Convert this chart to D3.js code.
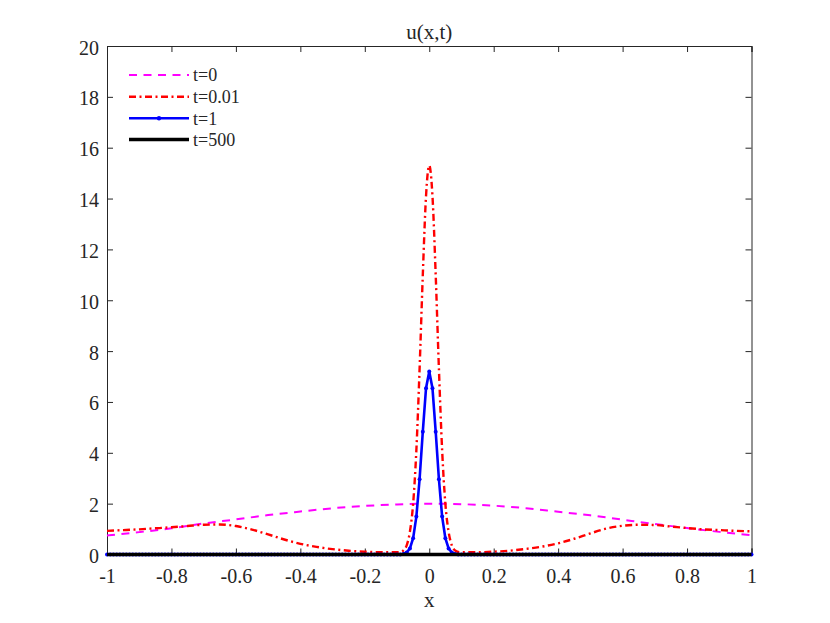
<!DOCTYPE html>
<html><head><meta charset="utf-8">
<script src="https://cdn.jsdelivr.net/npm/d3@7"></script>
<style>body{margin:0;background:#fff}svg{display:block}text{font-family:"Liberation Serif","Times New Roman",serif;fill:#262626}</style>
</head><body>
<script>
const xTicks = [-1,-0.8,-0.6,-0.4,-0.2,0,0.2,0.4,0.6,0.8,1];
const xTickLabels = ["-1","-0.8","-0.6","-0.4","-0.2","0","0.2","0.4","0.6","0.8","1"];
const yTicks = [0,2,4,6,8,10,12,14,16,18,20];
const seriesNames = ["t=0","t=0.01","t=1","t=500"];

const t0X = [-1,-0.9,-0.8,-0.7,-0.6,-0.5,-0.4,-0.3,-0.2,-0.1,0,0.1,0.2,0.3,0.4,0.5,0.6,0.7,0.8,0.9,1];
const t0Y = [0.75,0.88,1.03,1.22,1.38,1.55,1.69,1.82,1.91,1.97,2.0,1.98,1.92,1.82,1.68,1.54,1.37,1.2,1.04,0.89,0.76];

const t001X = [-1,-0.95,-0.9,-0.85,-0.8,-0.75,-0.7,-0.65,-0.6,-0.55,-0.5,-0.45,-0.4,-0.35,-0.3,-0.25,-0.2,-0.15,-0.1,-0.09,-0.08,-0.07,-0.06,-0.05,-0.04,-0.03,-0.02,-0.01,0,
  0.01,0.02,0.03,0.04,0.05,0.06,0.07,0.08,0.09,0.1,0.15,0.2,0.25,0.3,0.35,0.4,0.45,0.5,0.55,0.6,0.65,0.7,0.75,0.8,0.85,0.9,0.95,1];
const t001Y = [0.93,0.96,0.99,1.03,1.07,1.12,1.17,1.18,1.12,0.98,0.79,0.59,0.42,0.30,0.21,0.15,0.11,0.09,0.09,0.1,0.16,0.36,0.9,2.0,4.1,7.3,11.0,14.1,15.3,
  14.1,11.0,7.3,4.1,2.0,0.9,0.36,0.16,0.1,0.09,0.09,0.11,0.15,0.22,0.31,0.44,0.62,0.83,1.02,1.13,1.17,1.16,1.1,1.04,0.99,0.96,0.93,0.91];

// t=1 on grid x = -1..1 step 0.01; nonzero values near the centre
const t1CenterX = [-0.08,-0.07,-0.06,-0.05,-0.04,-0.03,-0.02,-0.01,0,0.01,0.02,0.03,0.04,0.05,0.06,0.07,0.08];
const t1CenterY = [0.02,0.08,0.24,0.64,1.49,2.96,4.83,6.54,7.2,6.54,4.83,2.96,1.49,0.64,0.24,0.08,0.02];
const gridX = d3.range(-100,101).map(i=>i/100);
const t1Y = gridX.map(x=>{const k=t1CenterX.findIndex(c=>Math.abs(c-x)<1e-9);return k>=0?t1CenterY[k]:0;});
const t500X = [-1,1];
const t500Y = [0,0];

const W=830,H=623, L=107, R=751.5, T=46, B=554.5;
const svg=d3.select("body").append("svg").attr("width",W).attr("height",H);
const x=d3.scaleLinear().domain([-1,1]).range([L,R]);
const y=d3.scaleLinear().domain([0,20]).range([B,T]);
const ax="#262626";

const gB=svg.append("g").attr("transform",`translate(0,${B})`).call(d3.axisBottom(x).tickValues(xTicks).tickSize(-6).tickPadding(14).tickFormat((d,i)=>xTickLabels[i]));
const gT=svg.append("g").attr("transform",`translate(0,${T})`).call(d3.axisTop(x).tickValues(xTicks).tickSize(-6).tickFormat(""));
const gL=svg.append("g").attr("transform",`translate(${L},0)`).call(d3.axisLeft(y).tickValues(yTicks).tickSize(-6).tickPadding(8));
const gR=svg.append("g").attr("transform",`translate(${R},0)`).call(d3.axisRight(y).tickValues(yTicks).tickSize(-6).tickFormat(""));
[gB,gT,gL,gR].forEach(g=>{g.select(".domain").attr("stroke",ax).attr("stroke-width",1);g.selectAll(".tick line").attr("stroke",ax);g.selectAll("text").style("font-size","20px").attr("fill",ax).style("font-family",'"Liberation Serif",serif');});
gB.selectAll(".tick text").attr("dy","0.71em");
gL.selectAll(".tick text").attr("dy","0.4em");

const line=d3.line().x(d=>x(d[0])).y(d=>y(d[1]));
const lineM=d3.line().x(d=>x(d[0])).y(d=>y(d[1])).curve(d3.curveMonotoneX);
const z=(a,b)=>a.map((v,i)=>[v,b[i]]);

const styles=[{c:"#ff00ff",w:2,da:"8,6.5"},{c:"#ff0000",w:2.4,da:"7,3.5,2,3.5"},{c:"#0000ff",w:2.6,da:null,m:true},{c:"#000",w:3.6,da:null}];

svg.append("path").attr("d",lineM(z(t0X,t0Y))).attr("fill","none").attr("stroke",styles[0].c).attr("stroke-width",styles[0].w).attr("stroke-dasharray",styles[0].da);
svg.append("path").attr("d",lineM(z(t001X,t001Y))).attr("fill","none").attr("stroke",styles[1].c).attr("stroke-width",styles[1].w).attr("stroke-dasharray",styles[1].da);
const d1=z(gridX,t1Y);
svg.append("path").attr("d",line(d1)).attr("fill","none").attr("stroke",styles[2].c).attr("stroke-width",styles[2].w);
svg.append("g").selectAll("circle").data(d1).join("circle").attr("cx",d=>x(d[0])).attr("cy",d=>y(d[1])).attr("r",2).attr("fill","#0000ff");
svg.append("path").attr("d",line(z(t500X,t500Y))).attr("fill","none").attr("stroke",styles[3].c).attr("stroke-width",styles[3].w);

const lg=svg.append("g");
seriesNames.forEach((n,i)=>{
  const yy=[75,96.7,118.3,139.5][i];
  const l=lg.append("line").attr("x1",129).attr("x2",189).attr("y1",yy).attr("y2",yy).attr("stroke",styles[i].c).attr("stroke-width",styles[i].w);
  if(styles[i].da) l.attr("stroke-dasharray",styles[i].da);
  if(styles[i].m) lg.append("circle").attr("cx",159).attr("cy",yy).attr("r",2.2).attr("fill",styles[i].c);
  lg.append("text").attr("x",193).attr("y",yy).attr("dy","0.35em").style("font-size","18px").text(n);
});

svg.append("text").attr("x",(L+R)/2).attr("y",38.5).attr("text-anchor","middle").style("font-size","21px").text("u(x,t)");
svg.append("text").attr("x",(L+R)/2).attr("y",606.7).attr("text-anchor","middle").style("font-size","21px").text("x");
</script>
</body></html>
